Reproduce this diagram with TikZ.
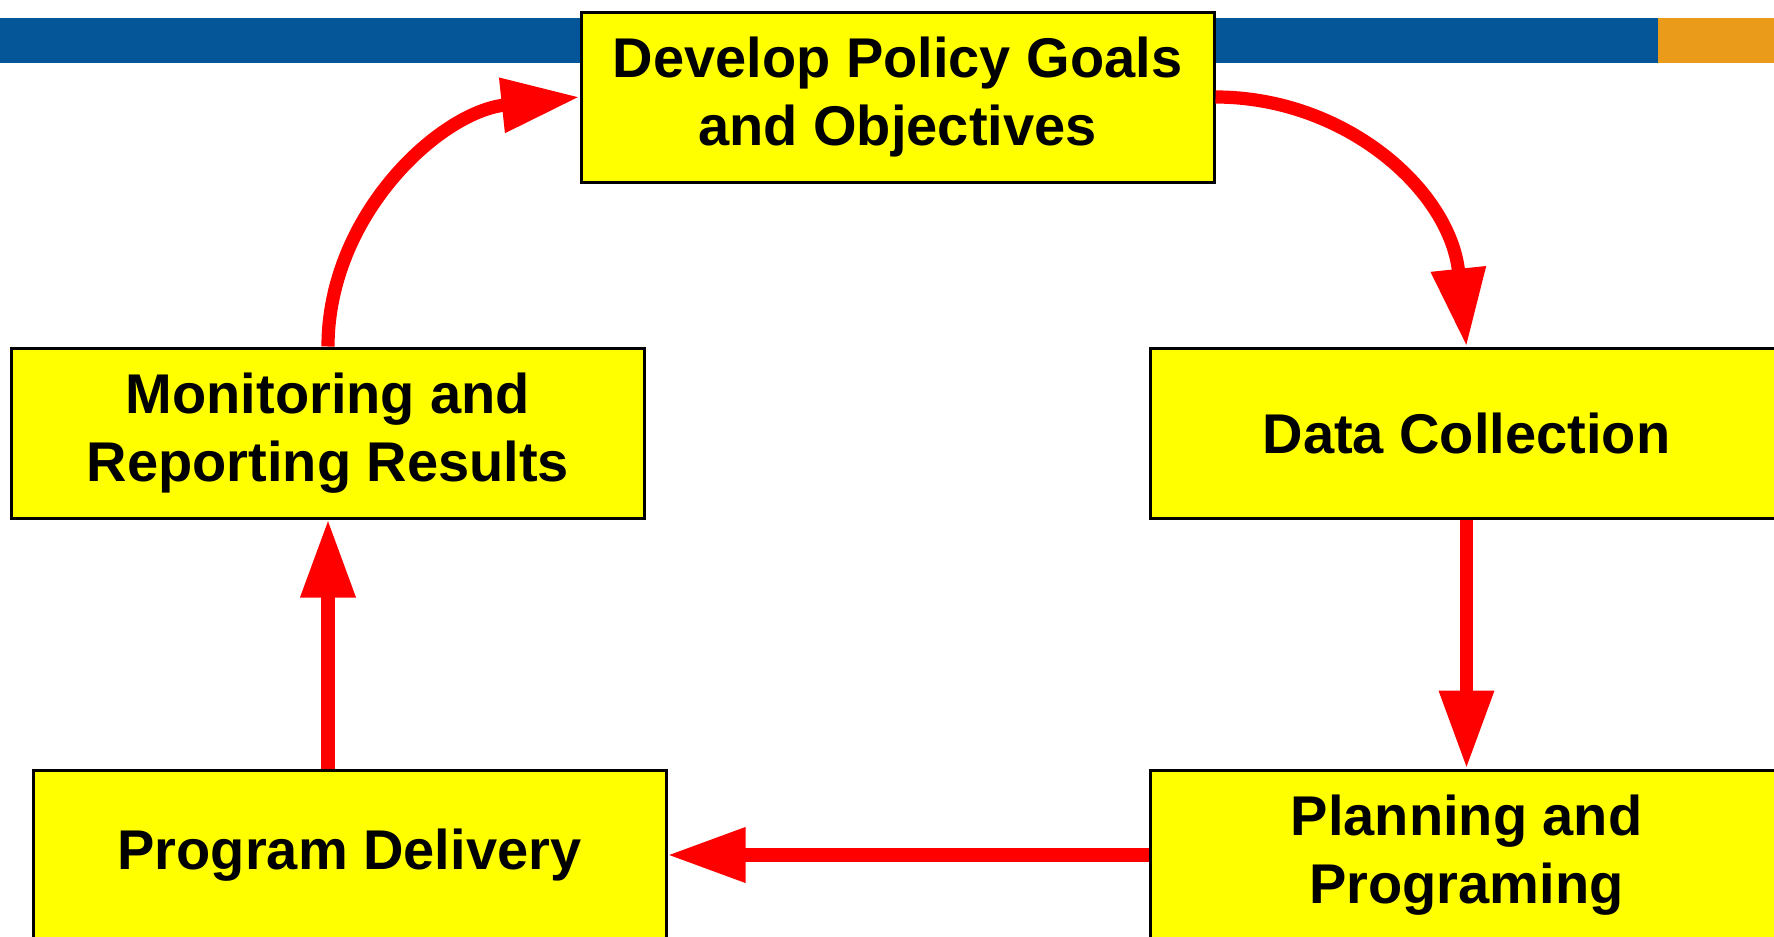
\documentclass[tikz,border=0pt]{standalone}
\usepackage{fontspec}
\setmainfont{Liberation Sans}
\usetikzlibrary{arrows.meta}
\definecolor{barblue}{RGB}{5,85,153}
\definecolor{barorange}{RGB}{235,155,26}
\definecolor{boxyellow}{RGB}{255,255,0}
\definecolor{arrowred}{RGB}{255,0,0}
\begin{document}
\begin{tikzpicture}[x=0.5pt,y=-0.5pt,
  stepbox/.style={draw=black,line width=1.5pt,fill=boxyellow,rectangle,
    minimum width=316.5pt,minimum height=85pt,inner sep=0pt,align=center,
    font=\fontsize{28pt}{34pt}\selectfont\bfseries},
  flow/.style={draw=arrowred,line width=6.6pt,
    -{Triangle[length=39pt,width=26pt]}}]
\useasboundingbox (0,0) rectangle (1774,937);
\clip (0,0) rectangle (1774,937);
% header bar
\fill[barblue] (0,18) rectangle (1658,63);
\fill[barorange] (1658,18) rectangle (1774,63);
% boxes
\node[stepbox] (top) at (897.5,97) {Develop Policy Goals\\and Objectives};
\node[stepbox] (mon) at (328,433) {Monitoring and\\Reporting Results};
\node[stepbox] (data) at (1466.5,433) {Data Collection};
\node[stepbox] (prog) at (349.5,855) {Program Delivery};
\node[stepbox] (plan) at (1466.5,855) {Planning and\\Programing};
% connectors
\draw[flow] (top.east) .. controls (1345,97) and (1450,190) .. (data.north);
\draw[flow] (data.south) -- (plan.north);
\draw[flow] (plan.west |- prog.east) -- (prog.east);
\draw[flow] (mon.south |- prog.north) -- (mon.south);
\draw[flow] (mon.north) .. controls (328,215) and (440,112) .. (top.west);
\end{tikzpicture}
\end{document}
